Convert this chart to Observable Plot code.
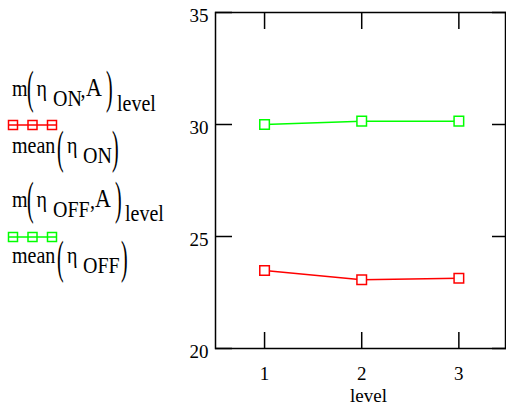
<!DOCTYPE html>
<html><head><meta charset="utf-8">
<script src="https://cdn.jsdelivr.net/npm/d3@7"></script>
<script src="https://cdn.jsdelivr.net/npm/@observablehq/plot@0.6"></script>
<style>
html,body{margin:0;padding:0;background:#fff;}
#wrap{position:relative;width:506px;height:408px;overflow:hidden;}
#legend{position:absolute;left:0;top:0;}
</style></head><body>
<div id="wrap"><div id="chart"></div>
<svg id="legend" width="200" height="300" xmlns="http://www.w3.org/2000/svg" fill="#000" style="font-family:'Liberation Serif','Times New Roman',serif;font-size:20px;">
  <!-- group 1 -->
  <text class="t" x="12" y="96">m</text>
  <text transform="translate(27,91) scale(1,2.3)" y="5.2">(</text>
  <text class="t" x="36.5" y="96">η</text>
  <text class="t" x="53" y="106">ON</text>
  <text class="t" x="80.5" y="97">,</text>
  <text class="t big" x="86" y="96">A</text>
  <text transform="translate(106,91) scale(1,2.3)" y="5.2">)</text>
  <text class="t" x="117" y="111">level</text>
  <g id="sym1"></g>
  <text class="t" x="12" y="153">mean</text>
  <text transform="translate(57,151) scale(1,2.3)" y="5.2">(</text>
  <text class="t" x="67" y="153">η</text>
  <text class="t" x="83" y="163">ON</text>
  <text transform="translate(112,151) scale(1,2.3)" y="5.2">)</text>
  <!-- group 2 -->
  <text class="t" x="12" y="207">m</text>
  <text transform="translate(27,202) scale(1,2.3)" y="5.2">(</text>
  <text class="t" x="36.5" y="207">η</text>
  <text class="t" x="53" y="217">OFF</text>
  <text class="t" x="90" y="208">,</text>
  <text class="t big" x="95" y="207">A</text>
  <text transform="translate(115,202) scale(1,2.3)" y="5.2">)</text>
  <text class="t" x="125" y="221">level</text>
  <g id="sym2"></g>
  <text class="t" x="12" y="263">mean</text>
  <text transform="translate(57,261) scale(1,2.3)" y="5.2">(</text>
  <text class="t" x="67" y="263">η</text>
  <text class="t" x="83" y="273">OFF</text>
  <text transform="translate(121,261) scale(1,2.3)" y="5.2">)</text>
</svg>
</div>
<script>
const levels = [1, 2, 3];
const seriesNames = ["ON", "OFF"];
const meanON = [23.48, 23.07, 23.14];
const meanOFF = [30.0, 30.15, 30.15];
const yTicks = [20, 25, 30, 35];
const seriesColors = ["#ff0000", "#00ff00"];
const xLabel = "level";

const rows = [];
levels.forEach((l, i) => {
  rows.push({level: l, value: meanON[i], series: "ON"});
  rows.push({level: l, value: meanOFF[i], series: "OFF"});
});

const chart = Plot.plot({
  width: 506, height: 408,
  marginLeft: 215, marginRight: 1, marginTop: 12, marginBottom: 60,
  style: {fontFamily: "'Liberation Serif','Times New Roman',serif", fontSize: "19px", background: "white", color: "black"},
  x: {domain: [0.495, 3.48]},
  y: {domain: [20, 35]},
  color: {domain: seriesNames, range: seriesColors},
  marks: [
    Plot.axisX(levels, {anchor: "bottom", tickSize: 16, dy: -16, tickFormat: () => "", label: null, strokeWidth: 1.5}),
    Plot.axisX(levels, {anchor: "top", tickSize: 16, dy: 16, tickFormat: () => "", label: null, strokeWidth: 1.5}),
    Plot.axisX(levels, {anchor: "bottom", tickSize: 0, tickPadding: 18, label: null}),
    Plot.axisY(yTicks, {anchor: "left", tickSize: 17, dx: 17, tickFormat: () => "", label: null, strokeWidth: 1.5}),
    Plot.axisY(yTicks, {anchor: "right", tickSize: 14, dx: -14, tickFormat: () => "", label: null, strokeWidth: 1.5}),
    Plot.axisY(yTicks, {anchor: "left", tickSize: 0, tickPadding: 7, dy: 3, label: null}),
    Plot.text([xLabel], {frameAnchor: "bottom", dy: 53, dx: 8, text: d => d, fontSize: 19}),
    Plot.frame({stroke: "black", strokeWidth: 1.5}),
    Plot.line(rows, {x: "level", y: "value", z: "series", stroke: "series", strokeWidth: 1.5}),
    Plot.dot(rows, {x: "level", y: "value", stroke: "series", symbol: "square", r: 5.4, fill: "white", strokeWidth: 1.5})
  ]
});
document.getElementById("chart").appendChild(chart);

// slightly taller glyphs, as in the reference
d3.selectAll("#legend text.t").each(function () {
  const el = d3.select(this);
  const x = +el.attr("x"), y = +el.attr("y");
  el.attr("x", 0).attr("y", 0).attr("transform", `translate(${x},${y}) scale(1,1.12)`);
  if (el.classed("big")) el.style("font-size", "22px");
});

// legend symbols (line + three squares) in series colours
const symY = [125, 237];
seriesNames.forEach((s, i) => {
  const g = d3.select("#sym" + (i + 1));
  g.append("line").attr("x1", 8).attr("x2", 57).attr("y1", symY[i]).attr("y2", symY[i])
    .attr("stroke", seriesColors[i]).attr("stroke-width", 1.5);
  [13, 32.5, 52].forEach(cx => {
    g.append("rect").attr("x", cx - 4.5).attr("y", symY[i] - 4.5).attr("width", 9).attr("height", 9)
      .attr("fill", "none").attr("stroke", seriesColors[i]).attr("stroke-width", 1.5);
  });
});
</script>
</body></html>
